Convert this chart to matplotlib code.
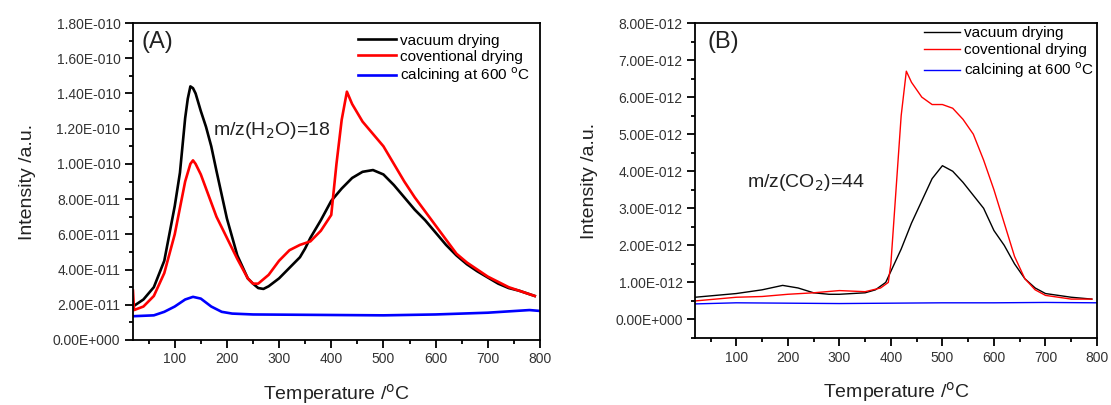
import matplotlib
matplotlib.use('Agg')
import matplotlib.pyplot as plt
from matplotlib.ticker import MultipleLocator, FixedLocator, FuncFormatter

plt.rcParams['font.family'] = ['Liberation Sans', 'DejaVu Sans']

# panel A, m/z 18 (values in 1e-11)
a_vac_t = [20, 40, 60, 80, 100, 110, 120, 125, 130, 135, 140, 150, 160, 170, 180, 200, 220, 240, 250, 260,
           270, 280, 300, 320, 340, 350, 360, 380, 400, 420, 440, 460, 480, 500, 520, 540, 560, 580, 600,
           620, 640, 660, 680, 700, 720, 740, 760, 790]
a_vac = [1.9, 2.3, 3.0, 4.5, 7.6, 9.5, 12.6, 13.7, 14.4, 14.3, 14.0, 13.0, 12.1, 11.0, 9.6, 6.9, 4.8, 3.5, 3.2, 2.95,
         2.9, 3.05, 3.5, 4.1, 4.7, 5.2, 5.8, 6.8, 7.9, 8.6, 9.2, 9.55, 9.65, 9.4, 8.8, 8.1, 7.4, 6.8, 6.1,
         5.4, 4.8, 4.3, 3.9, 3.55, 3.2, 2.95, 2.8, 2.5]
a_conv_t = [20, 22, 40, 60, 80, 100, 120, 130, 135, 140, 150, 160, 180, 200, 220, 240, 250, 260, 280, 300,
            320, 340, 360, 380, 400, 410, 420, 430, 440, 460, 480, 500, 520, 540, 560, 580, 600, 620, 640,
            660, 680, 700, 720, 740, 760, 790]
a_conv = [2.8, 1.7, 1.9, 2.5, 3.8, 6.0, 9.0, 10.0, 10.2, 10.0, 9.4, 8.6, 7.0, 5.8, 4.6, 3.5, 3.2, 3.2, 3.7, 4.5,
          5.1, 5.4, 5.6, 6.2, 7.1, 10.0, 12.5, 14.1, 13.4, 12.4, 11.7, 11.0, 10.0, 9.0, 8.1, 7.3, 6.5, 5.7, 4.9,
          4.4, 4.0, 3.6, 3.3, 3.0, 2.8, 2.5]
a_calc_t = [20, 60, 80, 100, 120, 135, 150, 170, 190, 210, 250, 400, 500, 600, 700, 780, 800]
a_calc = [1.35, 1.4, 1.6, 1.9, 2.3, 2.45, 2.35, 1.9, 1.6, 1.5, 1.45, 1.42, 1.4, 1.45, 1.55, 1.7, 1.65]
a_yticks = [0, 2e-11, 4e-11, 6e-11, 8e-11, 1e-10, 1.2e-10, 1.4e-10, 1.6e-10, 1.8e-10]

# panel B, m/z 44 (values in 1e-12)
b_vac_t = [20, 100, 150, 190, 220, 250, 280, 300, 350, 370, 390, 400, 420, 440, 460, 480, 500, 520, 540,
           560, 580, 600, 620, 640, 660, 680, 700, 750, 790]
b_vac = [0.6, 0.7, 0.8, 0.92, 0.85, 0.72, 0.68, 0.68, 0.72, 0.8, 1.0, 1.3, 1.9, 2.6, 3.2, 3.8, 4.15, 4.0, 3.7,
         3.35, 3.0, 2.4, 2.0, 1.5, 1.1, 0.85, 0.7, 0.6, 0.55]
b_conv_t = [20, 100, 150, 200, 250, 300, 350, 380, 395, 400, 410, 420, 430, 440, 460, 480, 500, 520, 540,
            560, 580, 600, 620, 640, 660, 680, 700, 750, 790]
b_conv = [0.5, 0.6, 0.62, 0.68, 0.72, 0.78, 0.75, 0.85, 1.0, 1.5, 3.5, 5.5, 6.7, 6.4, 6.0, 5.8, 5.8, 5.7, 5.4,
          5.0, 4.3, 3.5, 2.6, 1.7, 1.1, 0.8, 0.65, 0.55, 0.55]
b_calc_t = [20, 100, 200, 300, 400, 500, 600, 700, 800]
b_calc = [0.42, 0.45, 0.44, 0.43, 0.44, 0.45, 0.45, 0.46, 0.45]
b_yticks = [0, 1e-12, 2e-12, 3e-12, 4e-12, 5e-12, 6e-12, 7e-12, 8e-12]

x_ticks = [100, 200, 300, 400, 500, 600, 700, 800]

labels = ['vacuum drying', 'coventional drying', 'calcining at 600 $^{\\rm o}$C']
colors = ['black', '#ff0000', '#0000ff']


def origin_fmt(v, pos):
    if abs(v) < 1e-30:
        return '0.00E+000'
    s = f'{v:.2E}'
    m, e = s.split('E')
    return f'{m}E{e[0]}{int(e[1:]):03d}'


def style_axis(ax, yticks, ymin):
    ax.set_xlim(20, 800)
    ax.set_ylim(ymin, yticks[-1])
    ax.xaxis.set_major_locator(FixedLocator(x_ticks))
    ax.xaxis.set_minor_locator(MultipleLocator(50))
    ax.yaxis.set_major_locator(FixedLocator(yticks))
    ax.yaxis.set_minor_locator(MultipleLocator(yticks[1] / 2))
    ax.yaxis.set_major_formatter(FuncFormatter(origin_fmt))
    ax.tick_params(which='major', direction='out', length=6, width=1.3, labelsize=10,
                   labelcolor='#333333', pad=3)
    ax.tick_params(which='minor', direction='out', length=3, width=1.3)
    for sp in ax.spines.values():
        sp.set_linewidth(1.3)
    ax.set_xlabel('Temperature /$^{\\rm o}$C', fontsize=14, labelpad=11, color='#222222')
    ax.set_ylabel('Intensity /a.u.', fontsize=14, labelpad=12, color='#222222')


fig = plt.figure(figsize=(11.11, 4.05), dpi=100)
ax1 = fig.add_axes([0.1197, 0.1605, 0.3663, 0.7827])
ax2 = fig.add_axes([0.6256, 0.1654, 0.3618, 0.7778])

s = 1e-11
ax1.plot(a_vac_t, [v * s for v in a_vac], color=colors[0], lw=1.9, label=labels[0])
ax1.plot(a_conv_t, [v * s for v in a_conv], color=colors[1], lw=1.9, label=labels[1])
ax1.plot(a_calc_t, [v * s for v in a_calc], color=colors[2], lw=1.9, label=labels[2])
style_axis(ax1, a_yticks, 0)
ax1.text(0.022, 0.975, '(A)', transform=ax1.transAxes, fontsize=17, va='top', color='#222222')
ax1.text(174, 1.19e-10, 'm/z(H$_2$O)=18', fontsize=14, va='center', color='#222222')
ax1.legend(loc='upper right', frameon=False, fontsize=11, handlelength=2.5,
           borderaxespad=0.3, borderpad=0.4, labelspacing=0.12, handletextpad=0.2)

s = 1e-12
ax2.plot(b_vac_t, [v * s for v in b_vac], color=colors[0], lw=1.0, label=labels[0])
ax2.plot(b_conv_t, [v * s for v in b_conv], color=colors[1], lw=1.0, label=labels[1])
ax2.plot(b_calc_t, [v * s for v in b_calc], color=colors[2], lw=1.0, label=labels[2])
style_axis(ax2, b_yticks, -0.5e-12)
ax2.text(0.03, 0.975, '(B)', transform=ax2.transAxes, fontsize=17, va='top', color='#222222')
ax2.text(121, 3.69e-12, 'm/z(CO$_2$)=44', fontsize=14, va='center', color='#222222')
ax2.legend(loc='upper right', frameon=False, fontsize=11, handlelength=2.3,
           borderaxespad=0.0, borderpad=0.2, labelspacing=0.22, handletextpad=0.3)

fig.savefig('out.png', dpi=100)
